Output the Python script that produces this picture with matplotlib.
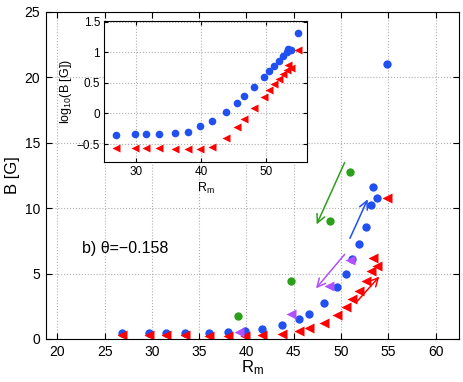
import numpy as np
import matplotlib
matplotlib.use('Agg')
import matplotlib.pyplot as plt

plt.rcParams['font.family'] = ['Liberation Sans', 'DejaVu Sans']
plt.rcParams['mathtext.fontset'] = 'custom'
plt.rcParams['mathtext.rm'] = 'Liberation Sans'
plt.rcParams['mathtext.it'] = 'Liberation Sans'

# Rm values shared by the blue and red series
rm = [26.87, 29.73, 31.52, 33.5, 36.03, 38.0, 39.84, 41.67, 43.75, 45.51, 46.64,
      48.16, 49.57, 50.48, 51.19, 51.93, 52.63, 53.2, 53.37, 53.76, 54.82]
b_blue = [0.45, 0.46, 0.46, 0.46, 0.47, 0.50, 0.62, 0.75, 1.07, 1.49, 1.94,
          2.75, 3.95, 4.96, 6.1, 7.25, 8.6, 10.27, 11.6, 10.8, 21.0]
b_red = [0.27, 0.27, 0.27, 0.27, 0.26, 0.26, 0.26, 0.28, 0.40, 0.60, 0.81,
         1.23, 1.84, 2.42, 3.04, 3.68, 4.40, 5.22, 6.2, 5.6, 10.8]

rm_magenta = [39.2, 44.67, 48.7, 50.94]
b_magenta = [0.56, 1.89, 4.06, 6.05]
rm_green = [39.14, 44.7, 48.83, 50.94]
b_green = [1.76, 4.43, 9.05, 12.77]

# arrows: (x_start, y_start, x_end, y_end, colour)
arrows = [
    (50.38, 13.5, 47.42, 8.76, '#2ca01a'),
    (50.94, 7.70, 52.81, 10.68, '#2050f0'),
    (50.38, 6.47, 47.35, 3.87, '#b050ff'),
    (51.6, 2.80, 54.04, 4.77, '#ff0000'),
]

blue = '#2050f0'
red = '#ff0000'
magenta = '#b050ff'
green = '#2ca01a'

fig = plt.figure(figsize=(4.63, 3.82), dpi=100)
ax = fig.add_axes([0.0987, 0.1126, 0.8933, 0.856])

ax.plot(rm, b_blue, 'o', color=blue, ms=6, mec='none')
ax.plot(rm, b_red, '<', color=red, ms=6.5, mec='none')
ax.plot(rm_magenta, b_magenta, '<', color=magenta, ms=6.5, mec='none')
ax.plot(rm_green, b_green, 'o', color=green, ms=6, mec='none')

for x0, y0, x1, y1, c in arrows:
    ax.annotate('', xy=(x1, y1), xytext=(x0, y0),
                arrowprops=dict(arrowstyle='->,head_length=0.6,head_width=0.3',
                                color=c, lw=1.1, shrinkA=0, shrinkB=0))

ax.text(22.6, 6.93, 'b) θ=−0.158', fontsize=11.5, va='center', ha='left')

ax.set_xlim(18.77, 62.5)
ax.set_ylim(0, 25)
ax.set_xticks(np.arange(20, 61, 5))
ax.set_yticks(np.arange(0, 26, 5))
ax.grid(True, linestyle=':', color='#b0b0b0', lw=0.8)
ax.tick_params(direction='in', top=True, right=True, labelsize=10, length=4, pad=4)
ax.set_xlabel('R$_\\mathrm{m}$', fontsize=12, labelpad=0)
ax.set_ylabel('B [G]', fontsize=12, labelpad=3)

# inset with log10 of the same data
ins = fig.add_axes([0.2253, 0.5759, 0.4378, 0.3683])
ins.plot(rm, np.log10(b_blue), 'o', color=blue, ms=5.5, mec='none')
ins.plot(rm, np.log10(b_red), '<', color=red, ms=6, mec='none')
ins.set_xlim(25.08, 56.26)
ins.set_ylim(-0.795, 1.51)
ins.set_xticks([30, 40, 50])
ins.set_yticks([-0.5, 0, 0.5, 1, 1.5])
ins.set_yticklabels(['−0.5', '0', '0.5', '1', '1.5'])
ins.grid(True, linestyle=':', color='#b0b0b0', lw=0.8)
ins.tick_params(direction='in', top=True, right=True, labelsize=8.5, length=3, pad=3)
ins.set_xlabel('R$_\\mathrm{m}$', fontsize=9, labelpad=2)
ins.set_ylabel('log$_{10}$(B [G])', fontsize=9, labelpad=2)

fig.savefig('out.png', dpi=100)
